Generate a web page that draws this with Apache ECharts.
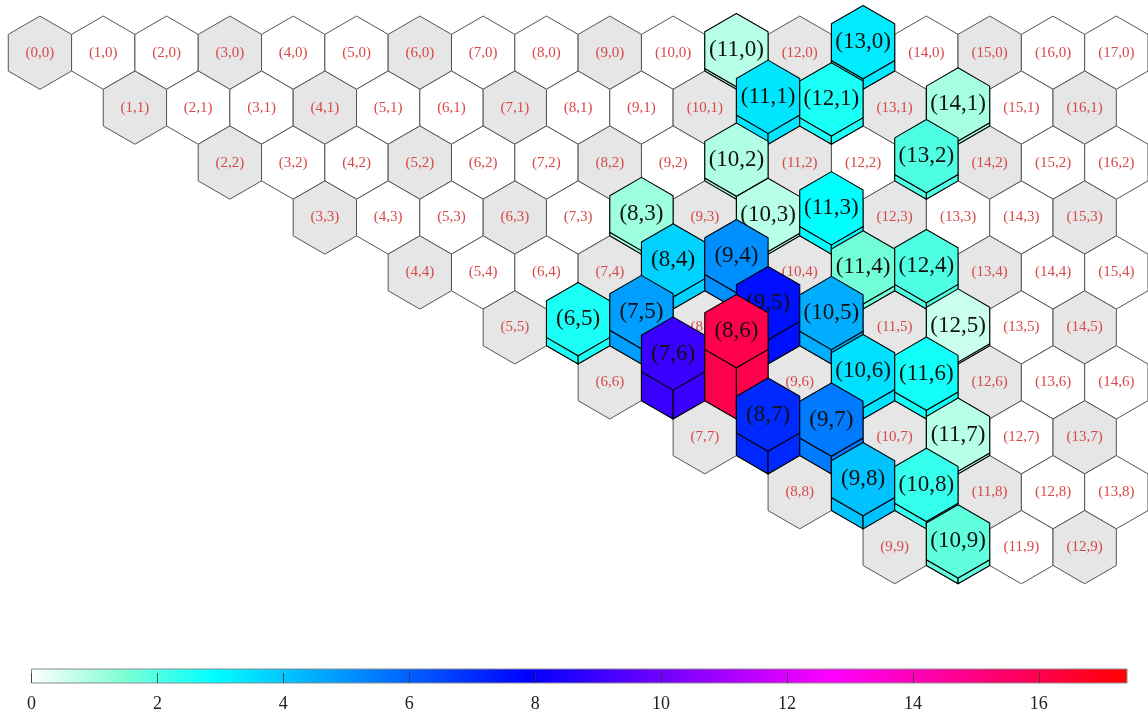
<!DOCTYPE html>
<html>
<head>
<meta charset="utf-8">
<script src="https://cdn.jsdelivr.net/npm/echarts@6/dist/echarts.min.js"></script>
<style>
  html, body { margin: 0; padding: 0; background: #ffffff; }
  #chart { width: 1148px; height: 715px; }
</style>
</head>
<body>
<div id="chart"></div>
<script>
// Hex board: row j holds columns rowStart[j] .. rowEnd[j]
const rowStart = [0, 1, 2, 3, 4, 5, 6, 7, 8, 9];
const rowEnd   = [17, 16, 16, 15, 15, 14, 14, 13, 13, 12];

// Raised cells (column, row, value)
const raisedCol = [11, 13, 11, 12, 14, 10, 13, 8, 10, 11, 8, 9, 11, 12, 6, 7, 9, 10, 12, 7, 8, 10, 11, 8, 9, 11, 9, 10, 10];
const raisedRow = [0, 0, 1, 1, 1, 2, 2, 3, 3, 3, 4, 4, 4, 4, 5, 5, 5, 5, 5, 6, 6, 6, 6, 7, 7, 7, 8, 8, 9];
const raisedVal = [0.8, 3.3, 3.4, 2.6, 1.0, 0.9, 2.0, 1.1, 0.8, 2.9, 3.8, 5.1, 1.6, 2.0, 2.6, 4.8, 7.6, 4.5, 0.6, 9.0, 16.0, 3.5, 2.7, 7.1, 5.5, 0.8, 4.1, 2.3, 1.8];

// Colour scale
const scaleMax = 17.4;
const scaleStops  = [0, 1.45, 2.9, 7.9, 12.7, 17.4];
const scaleColors = ['#ffffff', '#7fffd4', '#00ffff', '#0000ff', '#ff00ff', '#ff0000'];
const barTicks = [0, 2, 4, 6, 8, 10, 12, 14, 16];

const SERIF = '"Liberation Serif", "DejaVu Serif", serif';
const R = 1 / Math.sqrt(3);          // hex circumradius in column-width units
const ROW_H = Math.sqrt(3) / 2;      // vertical distance between rows
const LIFT = 0.0505;                 // prism height per unit of value

function hexToRgb(h) {
  return [parseInt(h.slice(1, 3), 16), parseInt(h.slice(3, 5), 16), parseInt(h.slice(5, 7), 16)];
}
function colorAt(v) {
  v = Math.max(0, Math.min(scaleMax, v));
  let k = 0;
  while (k < scaleStops.length - 2 && v > scaleStops[k + 1]) k++;
  const t = (v - scaleStops[k]) / (scaleStops[k + 1] - scaleStops[k]);
  const a = hexToRgb(scaleColors[k]), b = hexToRgb(scaleColors[k + 1]);
  const c = a.map((x, n) => Math.round(x + (b[n] - x) * t));
  return 'rgb(' + c.join(',') + ')';
}

// Flat board cells
const flatData = [];
for (let j = 0; j < rowStart.length; j++) {
  for (let i = rowStart[j]; i <= rowEnd[j]; i++) {
    flatData.push([i + j / 2, j * ROW_H, i, j]);
  }
}

// Raised cells, back rows first so front prisms overlap
const raisedData = raisedCol.map((c, n) => [c + raisedRow[n] / 2, raisedRow[n] * ROW_H, c, raisedRow[n], raisedVal[n]])
  .sort((a, b) => a[3] - b[3] || a[2] - b[2]);

const hexOffsets = [[0, -R], [0.5, -R / 2], [0.5, R / 2], [0, R], [-0.5, R / 2], [-0.5, -R / 2]];

function renderFlat(params, api) {
  const X = api.value(0), Y = api.value(1), i = api.value(2), j = api.value(3);
  const pts = hexOffsets.map(o => api.coord([X + o[0], Y + o[1]]));
  const c = api.coord([X, Y]);
  return {
    type: 'group',
    children: [
      { type: 'polygon', shape: { points: pts },
        style: { fill: (i - j) % 3 === 0 ? '#e6e6e6' : '#ffffff', stroke: '#555555', lineWidth: 1 } },
      { type: 'text', style: { text: '(' + i + ',' + j + ')', x: c[0], y: c[1], align: 'center', verticalAlign: 'middle',
        font: '15px ' + SERIF, fill: '#d94848' } }
    ]
  };
}

function renderRaised(params, api) {
  const X = api.value(0), Y = api.value(1), i = api.value(2), j = api.value(3), v = api.value(4);
  const h = v * LIFT;
  const col = colorAt(v);
  const P = (dx, dy) => api.coord([X + dx, Y + dy]);
  const st = { fill: col, stroke: '#000000', lineWidth: 1.1, lineJoin: 'round' };
  const leftFace  = [P(-0.5, R / 2), P(0, R), P(0, R - h), P(-0.5, R / 2 - h)];
  const rightFace = [P(0, R), P(0.5, R / 2), P(0.5, R / 2 - h), P(0, R - h)];
  const top = hexOffsets.map(o => P(o[0], o[1] - h));
  const c = P(0, -h);
  return {
    type: 'group',
    children: [
      { type: 'polygon', shape: { points: leftFace }, style: st },
      { type: 'polygon', shape: { points: rightFace }, style: st },
      { type: 'polygon', shape: { points: top }, style: st },
      { type: 'text', style: { text: '(' + i + ',' + j + ')', x: c[0], y: c[1], align: 'center', verticalAlign: 'middle',
        font: '23px ' + SERIF, fill: '#111111' } }
    ]
  };
}

function renderBar(params, api) {
  const a = api.coord([0, 1]), b = api.coord([scaleMax, 0]);
  const stops = scaleStops.map((s, n) => ({ offset: s / scaleMax, color: scaleColors[n] }));
  return {
    type: 'rect',
    shape: { x: a[0], y: a[1], width: b[0] - a[0], height: b[1] - a[1] },
    style: { fill: new echarts.graphic.LinearGradient(0, 0, 1, 0, stops), stroke: '#8c8c8c', lineWidth: 1 }
  };
}

const PX = 63.44; // pixels per column width
const chart = echarts.init(document.getElementById('chart'), null, { renderer: 'canvas' });
chart.setOption({
  animation: false,
  backgroundColor: '#ffffff',
  grid: [
    { left: 40 - 0.6 * PX, width: 18.1 * PX, top: 52.7 - 0.8 * PX, height: 10.8 * PX },
    { left: 31.5, width: 1095.5, top: 669, height: 14 }
  ],
  xAxis: [
    { gridIndex: 0, type: 'value', min: -0.6, max: 17.5, show: false },
    { gridIndex: 1, type: 'value', min: 0, max: scaleMax, z: 10,
      axisLine: { show: false },
      splitLine: { show: false },
      axisTick: { show: true, inside: true, length: 10, customValues: barTicks, lineStyle: { color: '#333', width: 1, opacity: 0.8 } },
      axisLabel: { show: true, customValues: barTicks, margin: 12, color: '#222', fontSize: 18, fontFamily: SERIF } }
  ],
  yAxis: [
    { gridIndex: 0, type: 'value', min: -0.8, max: 10, inverse: true, show: false },
    { gridIndex: 1, type: 'value', min: 0, max: 1, show: false }
  ],
  series: [
    { type: 'custom', xAxisIndex: 0, yAxisIndex: 0, data: flatData, renderItem: renderFlat, z: 2, clip: false },
    { type: 'custom', xAxisIndex: 0, yAxisIndex: 0, data: raisedData, renderItem: renderRaised, z: 3, clip: false },
    { type: 'custom', xAxisIndex: 1, yAxisIndex: 1, data: [[0]], renderItem: renderBar, z: 2 }
  ]
});
</script>
</body>
</html>
